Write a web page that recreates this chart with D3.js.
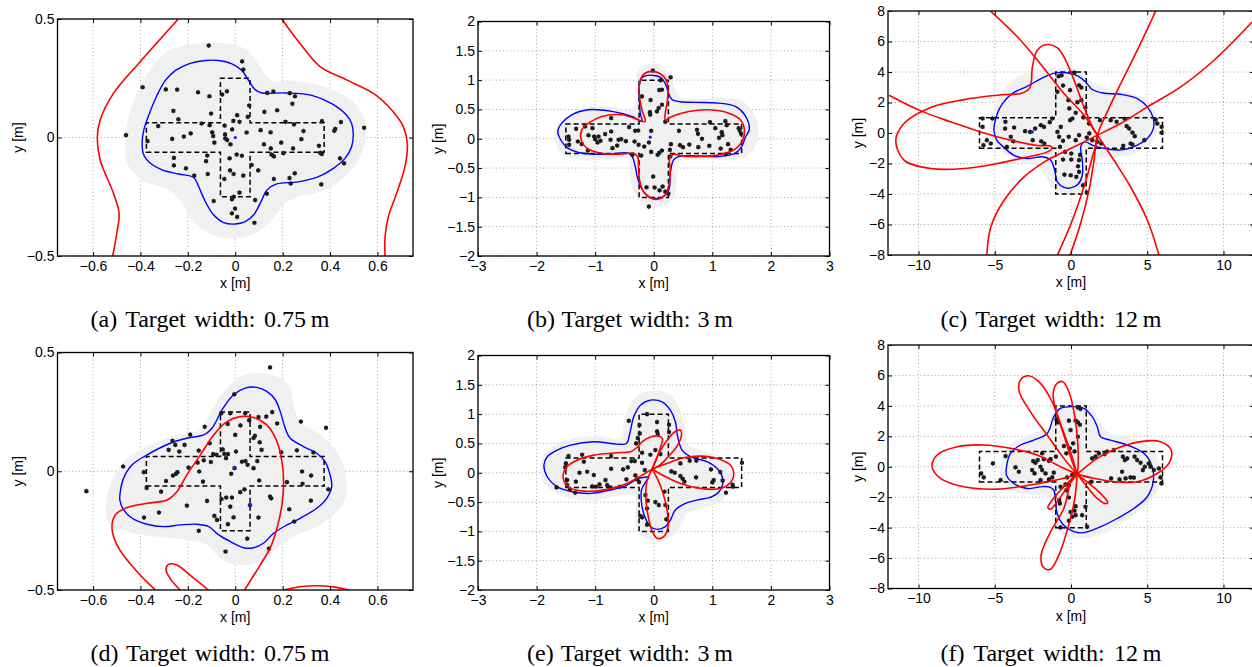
<!DOCTYPE html>
<html>
<head>
<meta charset="utf-8">
<script src="https://cdn.jsdelivr.net/npm/d3@7/dist/d3.min.js"></script>
<style>
  html, body { margin: 0; padding: 0; background: #fff; }
  svg { display: block; }
  .tick text { font-family: "Liberation Sans", Arial, sans-serif; font-size: 14px; fill: #000; }
  .lab { font-family: "Liberation Sans", Arial, sans-serif; font-size: 14px; fill: #000; }
  .cap { font-family: "Liberation Serif", "Times New Roman", serif; font-size: 24px; fill: #000; }
</style>
</head>
<body>
<svg id="fig" width="1252" height="667"></svg>
<script>
// ---------- tick values and labels ----------
const xTicksSmall = [-0.6, -0.4, -0.2, 0, 0.2, 0.4, 0.6];
const xLabelsSmall = ["−0.6", "−0.4", "−0.2", "0", "0.2", "0.4", "0.6"];
const yTicksSmall = [-0.5, 0, 0.5];
const yLabelsSmall = ["−0.5", "0", "0.5"];
const xTicksMid = [-3, -2, -1, 0, 1, 2, 3];
const xLabelsMid = ["−3", "−2", "−1", "0", "1", "2", "3"];
const yTicksMid = [-2, -1.5, -1, -0.5, 0, 0.5, 1, 1.5, 2];
const yLabelsMid = ["−2", "−1.5", "−1", "−0.5", "0", "0.5", "1", "1.5", "2"];
const xTicksLarge = [-10, -5, 0, 5, 10];
const xLabelsLarge = ["−10", "−5", "0", "5", "10"];
const yTicksLarge = [-8, -6, -4, -2, 0, 2, 4, 6, 8];
const yLabelsLarge = ["−8", "−6", "−4", "−2", "0", "2", "4", "6", "8"];

// ---------- captions ----------
const captions = ["(a) Target width: 0.75\u2009m", "(b) Target width: 3\u2009m", "(c) Target width: 12\u2009m",
                  "(d) Target width: 0.75\u2009m", "(e) Target width: 3\u2009m", "(f) Target width: 12\u2009m"];
const targetWidths = [0.75, 3, 12, 0.75, 3, 12];

// ---------- panel (a) ----------
const ptsA = [[-0.112,0.388],[0.029,0.321],[0.034,0.286],[-0.391,0.212],[-0.293,0.203],[-0.245,0.202],[-0.157,0.191],[-0.109,0.174],[-0.035,0.195],[-0.055,0.181],[0.135,0.188],[0.161,0.194],[0.230,0.187],[0.252,0.174],[0.241,0.142],[0.059,0.135],[-0.261,0.112],[-0.102,0.101],[0.008,0.094],[0.123,0.108],[0.177,0.115],[-0.240,0.077],[-0.008,0.070],[0.018,0.066],[0.053,0.087],[0.212,0.066],[0.248,0.055],[0.366,0.069],[0.446,0.065],[-0.325,0.048],[-0.142,0.059],[-0.108,0.052],[-0.045,0.050],[-0.013,0.034],[0.107,0.031],[0.149,0.022],[0.048,0.021],[0.288,0.027],[0.418,0.028],[0.422,0.036],[0.544,0.041],[-0.461,0.010],[-0.370,-0.015],[-0.266,-0.006],[-0.217,0.004],[-0.188,0.017],[-0.097,0.022],[-0.093,0.006],[-0.043,0.013],[-0.088,-0.022],[-0.042,-0.004],[-0.034,-0.011],[-0.020,-0.029],[0.121,-0.029],[0.150,-0.046],[0.194,-0.022],[0.279,-0.007],[0.353,-0.035],[0.359,-0.065],[0.365,-0.070],[-0.259,-0.086],[-0.118,-0.076],[-0.123,-0.100],[0.006,-0.072],[0.028,-0.077],[-0.024,-0.088],[0.153,-0.072],[0.163,-0.080],[0.203,-0.066],[0.244,-0.046],[-0.259,-0.118],[-0.208,-0.130],[-0.173,-0.161],[-0.116,-0.154],[-0.022,-0.139],[-0.007,-0.154],[0.034,-0.161],[0.069,-0.116],[0.097,-0.139],[-0.046,-0.175],[0.163,-0.175],[0.229,-0.171],[0.251,-0.151],[0.234,-0.194],[0.442,-0.088],[0.459,-0.109],[0.363,-0.198],[0.018,-0.233],[-0.006,-0.250],[-0.014,-0.261],[-0.091,-0.268],[0.084,-0.264],[0.133,-0.237],[-0.001,-0.300],[-0.014,-0.320],[0.008,-0.335],[0.081,-0.360]];
const blueA = [[-0.393,-0.025],[-0.386,0.031],[-0.365,0.094],[-0.330,0.178],[-0.295,0.241],[-0.252,0.283],[-0.196,0.311],[-0.126,0.325],[-0.070,0.325],[-0.014,0.311],[0.028,0.283],[0.056,0.241],[0.084,0.202],[0.112,0.188],[0.210,0.188],[0.323,0.178],[0.407,0.143],[0.470,0.094],[0.491,0.059],[0.498,0.017],[0.491,-0.039],[0.463,-0.088],[0.414,-0.130],[0.351,-0.165],[0.266,-0.187],[0.175,-0.196],[0.133,-0.222],[0.112,-0.264],[0.077,-0.327],[0.042,-0.355],[0.000,-0.365],[-0.049,-0.359],[-0.091,-0.327],[-0.126,-0.271],[-0.154,-0.208],[-0.175,-0.169],[-0.238,-0.154],[-0.309,-0.137],[-0.358,-0.109],[-0.386,-0.074]];
const grayA = [[-0.463,-0.011],[-0.456,0.059],[-0.421,0.171],[-0.351,0.297],[-0.281,0.367],[-0.168,0.396],[-0.042,0.398],[0.042,0.374],[0.098,0.311],[0.154,0.241],[0.238,0.241],[0.379,0.213],[0.491,0.157],[0.547,0.073],[0.550,-0.011],[0.519,-0.095],[0.463,-0.165],[0.379,-0.222],[0.266,-0.250],[0.210,-0.278],[0.154,-0.348],[0.084,-0.404],[-0.014,-0.425],[-0.112,-0.404],[-0.182,-0.348],[-0.224,-0.278],[-0.281,-0.222],[-0.393,-0.180],[-0.456,-0.109]];
const redA1 = [[-0.240,0.5],[-0.401,0.320],[-0.514,0.186],[-0.570,0.074],[-0.582,0.003],[-0.570,-0.095],[-0.514,-0.235],[-0.490,-0.320],[-0.500,-0.404],[-0.517,-0.5]];
const redA2 = [[0.196,0.5],[0.273,0.397],[0.358,0.299],[0.470,0.243],[0.583,0.186],[0.660,0.116],[0.709,0.046],[0.726,-0.024],[0.716,-0.123],[0.681,-0.235],[0.646,-0.334],[0.632,-0.419],[0.632,-0.5]];
const marksA = [[0.0, 0.0]];

// ---------- panel (b) ----------
const ptsB = [[-0.014,1.161],[0.288,1.047],[0.117,0.996],[0.140,0.836],[0.094,0.830],[-0.202,0.722],[-0.054,0.659],[0.140,0.580],[0.083,0.523],[0.054,0.466],[-0.066,0.454],[-0.060,0.409],[0.197,0.289],[-0.726,0.352],[0.430,0.135],[0.738,0.152],[0.755,0.084],[0.960,0.283],[1.222,0.300],[1.245,0.232],[1.051,0.181],[1.160,0.112],[1.171,0.061],[1.114,0.015],[1.450,0.181],[1.467,0.135],[1.490,0.084],[-0.316,0.135],[-0.265,0.141],[-0.043,0.135],[-0.083,-0.064],[0.293,-0.093],[0.276,-0.190],[0.447,-0.110],[0.499,-0.144],[0.607,-0.099],[0.761,-0.144],[0.823,-0.002],[0.949,-0.121],[1.142,-0.167],[1.268,-0.093],[1.228,-0.264],[1.313,-0.190],[-1.325,0.169],[-1.171,0.209],[-1.296,-0.047],[-1.456,0.038],[-1.444,-0.019],[-1.444,-0.104],[-1.046,0.181],[-1.017,0.038],[-1.000,-0.007],[-0.943,0.038],[-0.960,-0.064],[-0.909,-0.036],[-0.726,0.124],[-0.738,-0.019],[-0.704,-0.161],[-0.601,-0.019],[-0.556,-0.007],[-0.476,-0.042],[-0.624,-0.116],[-0.328,-0.047],[-0.259,-0.104],[-0.162,-0.133],[-0.362,-0.275],[-0.214,-0.287],[-0.043,-0.224],[0.140,-0.201],[0.094,-0.241],[0.066,-0.275],[0.282,-0.303],[-0.009,-0.645],[-0.123,-0.828],[0.014,-0.833],[0.151,-0.816],[0.197,-0.902],[-0.083,-1.158],[-1.125,-0.201],[-1.114,0.060],[-0.830,0.080],[-1.230,-0.090],[-0.420,0.200],[0.100,-0.880],[0.250,-0.940]];
const blueB = [[-1.638,0.124],[-1.570,0.266],[-1.399,0.409],[-1.114,0.494],[-0.715,0.466],[-0.373,0.380],[-0.202,0.295],[-0.231,0.437],[-0.242,0.608],[-0.248,0.893],[-0.202,1.040],[-0.110,1.080],[0.000,1.080],[0.111,1.050],[0.185,0.960],[0.265,0.750],[0.311,0.670],[0.453,0.630],[0.709,0.620],[1.108,0.608],[1.393,0.551],[1.553,0.409],[1.632,0.164],[1.564,0.027],[1.507,-0.121],[1.393,-0.247],[1.108,-0.304],[0.709,-0.292],[0.424,-0.304],[0.339,-0.360],[0.282,-0.588],[0.265,-0.845],[0.197,-0.959],[0.083,-1.016],[-0.060,-0.999],[-0.174,-0.902],[-0.259,-0.731],[-0.316,-0.474],[-0.362,-0.315],[-0.430,-0.247],[-0.715,-0.258],[-1.000,-0.264],[-1.285,-0.235],[-1.467,-0.161],[-1.570,-0.047]];
const grayB = [[-1.684,0.038],[-1.627,0.266],[-1.456,0.409],[-1.171,0.523],[-0.715,0.551],[-0.373,0.494],[-0.288,0.779],[-0.288,1.121],[-0.145,1.263],[0.083,1.263],[0.254,1.121],[0.368,0.836],[0.481,0.694],[0.766,0.676],[1.279,0.694],[1.564,0.608],[1.735,0.380],[1.792,0.124],[1.735,-0.133],[1.564,-0.304],[1.279,-0.360],[0.709,-0.360],[0.453,-0.389],[0.396,-0.645],[0.368,-0.930],[0.254,-1.101],[0.026,-1.158],[-0.202,-1.101],[-0.345,-0.930],[-0.402,-0.645],[-0.430,-0.360],[-0.829,-0.360],[-1.285,-0.360],[-1.541,-0.275],[-1.655,-0.133]];
const redB = [[-0.145,0.295],[-0.202,0.494],[-0.248,0.779],[-0.231,1.007],[-0.145,1.121],[-0.020,1.149],[0.111,1.109],[0.208,1.007],[0.242,0.836],[0.231,0.637],[0.197,0.437],[0.197,0.323],[0.311,0.380],[0.595,0.466],[0.937,0.494],[1.279,0.437],[1.479,0.323],[1.547,0.152],[1.507,-0.047],[1.365,-0.190],[1.108,-0.275],[0.766,-0.304],[0.481,-0.292],[0.339,-0.264],[0.271,-0.332],[0.282,-0.531],[0.254,-0.816],[0.197,-0.959],[0.071,-1.033],[-0.054,-1.010],[-0.157,-0.930],[-0.231,-0.759],[-0.259,-0.531],[-0.276,-0.304],[-0.345,-0.247],[-0.601,-0.264],[-0.886,-0.247],[-1.114,-0.178],[-1.239,-0.019],[-1.228,0.152],[-1.114,0.266],[-0.886,0.380],[-0.544,0.409],[-0.259,0.323]];
const marksB = [[-0.06, 0.027]];

// ---------- panel (c) ----------
const ptsC = [[-0.81,3.72],[-0.62,3.79],[0.22,3.96],[-0.52,3.11],[0.53,3.13],[0.68,2.98],[-0.06,2.81],[-0.17,2.15],[0.42,2.02],[0.68,2.15],[0.94,1.67],[-0.11,1.61],[0.31,1.32],[0.09,0.95],[0.81,1.02],[-0.06,0.84],[1.18,0.62],[-0.67,0.40],[-0.89,2.70],[-5.80,0.95],[-5.15,0.95],[-5.80,0.40],[-5.52,-0.47],[-5.26,-0.69],[-5.74,-0.80],[-4.30,0.73],[-4.32,0.29],[-3.73,0.36],[-3.01,0.12],[-2.68,0.07],[-2.35,0.29],[-1.98,0.51],[-1.77,0.40],[-1.22,0.95],[-1.39,0.71],[-2.51,-0.47],[-1.95,-0.54],[-1.75,-0.69],[-3.95,-0.25],[-3.78,-0.54],[-4.21,-0.91],[-0.78,-0.25],[-0.89,0.07],[-0.52,-0.51],[-0.15,-0.25],[0.31,-0.47],[0.53,-0.14],[1.90,0.84],[2.60,0.84],[2.99,0.73],[3.52,0.93],[3.65,0.45],[3.81,0.29],[4.03,0.03],[4.18,-0.21],[3.91,-0.69],[4.81,-0.47],[5.55,0.88],[5.66,0.62],[5.94,0.40],[5.94,0.01],[4.03,-0.76],[3.43,-0.84],[1.40,-0.47],[1.73,-0.58],[1.99,-0.69],[1.20,-0.03],[1.03,-0.30],[-0.72,-0.91],[-0.39,-1.24],[0.02,-1.35],[0.59,-1.44],[0.53,-1.78],[-0.52,-1.74],[0.02,-1.74],[0.46,-2.18],[-0.43,-2.73],[-0.02,-2.77],[0.53,-2.55],[0.35,-2.88],[0.79,-3.43],[1.03,-3.91]];
const blueC = [[-5.05,0.18],[-4.87,1.17],[-4.50,1.93],[-3.85,2.59],[-2.86,3.07],[-1.90,3.60],[-1.10,3.93],[-0.30,3.95],[0.50,3.72],[1.00,3.30],[1.40,2.85],[2.10,2.62],[3.26,2.54],[4.35,2.26],[5.01,1.71],[5.40,0.95],[5.40,0.29],[5.01,-0.36],[4.35,-0.80],[3.48,-1.09],[2.38,-1.05],[1.40,-0.80],[0.96,-0.58],[0.74,-0.69],[0.63,-0.95],[0.74,-1.78],[0.74,-2.77],[0.46,-3.36],[-0.02,-3.60],[-0.46,-3.57],[-0.90,-3.21],[-1.07,-2.44],[-1.33,-1.78],[-1.88,-1.56],[-2.86,-1.67],[-3.74,-1.46],[-4.39,-0.95],[-4.87,-0.47]];
const grayC = [[-5.31,0.07],[-5.26,1.05],[-4.60,2.59],[-3.50,3.68],[-2.20,4.12],[-0.89,4.23],[0.41,4.12],[1.50,3.24],[2.82,2.80],[4.35,2.48],[5.22,1.93],[5.66,0.84],[5.55,-0.25],[5.00,-0.91],[3.91,-1.46],[2.38,-1.57],[1.51,-1.78],[1.18,-3.10],[0.63,-3.87],[-0.24,-4.08],[-1.11,-3.75],[-1.66,-2.88],[-2.20,-2.22],[-3.51,-1.78],[-4.39,-1.35],[-5.05,-0.69]];
const redC1 = [[-5.27,7.99],[-3.52,6.31],[-2.21,4.78],[-0.46,2.59],[0.85,1.17],[1.73,-0.14],[2.82,-1.79],[3.91,-3.54],[5.01,-5.72],[5.77,-8.01]];
const redC2 = [[5.55,7.99],[4.35,5.43],[3.26,3.24],[2.38,1.39],[1.73,-0.14],[1.51,-1.79],[1.18,-3.75],[0.63,-5.94],[-0.06,-8.01]];
const redC3 = [[11.89,7.29],[9.38,4.77],[7.19,3.02],[5.01,1.71],[3.26,0.62],[1.73,-0.14],[-0.02,-1.02],[-1.55,-1.78],[-3.08,-2.88],[-4.39,-4.41],[-5.26,-6.16],[-5.52,-8.01]];
const redC4 = [[-11.93,2.48],[-9.96,1.50],[-7.89,0.73],[-5.92,0.07],[-3.95,-0.47],[-2.21,-0.82],[-1.44,-0.84],[-1.22,-0.97],[-1.55,-1.24],[-2.64,-1.52],[-4.83,-2.00],[-7.01,-2.33],[-9.20,-2.33],[-10.95,-1.78],[-11.49,-0.47],[-10.95,0.62],[-9.20,1.67],[-7.01,2.19],[-4.83,2.48],[-3.19,2.63],[-2.69,2.98],[-2.53,4.34],[-2.21,5.43],[-1.55,5.80],[-0.89,5.58],[-0.35,4.77],[0.20,3.46],[0.85,1.71],[1.51,0.18],[1.73,-0.14],[1.40,-1.57],[0.85,-3.53],[0.09,-5.72],[-0.89,-8.01]];
const marksC = [[-2.54, 0.07]];

// ---------- panel (d) ----------
const ptsD = [[0.147,0.437],[-0.004,0.324],[0.277,0.209],[0.383,0.183],[-0.059,0.244],[-0.021,0.244],[0.042,0.244],[0.098,0.228],[0.131,0.230],[0.156,0.249],[0.177,0.201],[-0.129,0.187],[-0.032,0.199],[0.022,0.193],[0.059,0.215],[0.105,0.187],[-0.190,0.154],[0.000,0.153],[0.083,0.149],[0.077,0.140],[0.103,0.122],[-0.265,0.128],[-0.253,0.111],[-0.214,0.111],[-0.108,0.118],[-0.281,0.090],[-0.236,0.083],[-0.154,0.087],[-0.053,0.092],[-0.093,0.072],[-0.079,0.069],[-0.046,0.073],[-0.031,0.072],[0.003,0.083],[-0.039,0.055],[0.028,0.040],[0.043,0.043],[0.052,0.027],[0.077,0.013],[0.093,0.043],[0.111,0.090],[0.194,0.080],[0.260,0.088],[0.330,0.079],[-0.133,0.046],[-0.103,0.039],[-0.159,0.036],[-0.197,0.015],[-0.244,-0.004],[-0.250,-0.011],[-0.263,-0.018],[-0.386,-0.004],[-0.152,-0.001],[-0.292,-0.041],[-0.136,-0.044],[-0.374,-0.070],[-0.313,-0.086],[-0.003,0.013],[-0.017,-0.011],[0.101,-0.039],[0.218,-0.046],[0.282,-0.001],[0.320,-0.018],[0.284,-0.053],[0.393,-0.076],[0.021,-0.088],[0.039,-0.076],[-0.014,-0.111],[-0.038,-0.111],[-0.058,-0.117],[-0.119,-0.125],[0.147,-0.107],[0.152,-0.114],[0.319,-0.124],[0.062,-0.143],[-0.204,-0.145],[-0.322,-0.174],[-0.385,-0.195],[-0.021,-0.149],[-0.007,-0.194],[-0.088,-0.188],[-0.077,-0.205],[0.098,-0.195],[0.228,-0.160],[0.249,-0.212],[-0.031,-0.223],[-0.154,-0.251],[0.051,-0.284],[-0.041,-0.338],[0.142,-0.326],[-0.628,-0.084],[-0.473,0.020]];
const blueD = [[-0.485,-0.086],[-0.471,-0.029],[-0.435,0.027],[-0.372,0.069],[-0.274,0.118],[-0.204,0.139],[-0.133,0.153],[-0.098,0.181],[-0.056,0.258],[-0.007,0.322],[0.042,0.350],[0.091,0.353],[0.133,0.336],[0.169,0.301],[0.190,0.251],[0.211,0.181],[0.232,0.139],[0.288,0.104],[0.344,0.076],[0.379,0.041],[0.400,-0.015],[0.407,-0.065],[0.386,-0.114],[0.344,-0.156],[0.274,-0.198],[0.218,-0.226],[0.162,-0.261],[0.119,-0.303],[0.077,-0.322],[0.035,-0.322],[-0.021,-0.296],[-0.070,-0.268],[-0.112,-0.233],[-0.162,-0.223],[-0.232,-0.226],[-0.302,-0.233],[-0.372,-0.223],[-0.435,-0.198],[-0.471,-0.163],[-0.487,-0.121]];
const grayD = [[-0.548,-0.170],[-0.527,-0.058],[-0.471,0.041],[-0.372,0.104],[-0.246,0.153],[-0.147,0.174],[-0.105,0.251],[-0.035,0.350],[0.021,0.399],[0.105,0.413],[0.190,0.392],[0.232,0.350],[0.246,0.279],[0.274,0.209],[0.358,0.153],[0.428,0.083],[0.463,-0.001],[0.463,-0.114],[0.414,-0.184],[0.330,-0.240],[0.246,-0.275],[0.176,-0.324],[0.105,-0.381],[0.021,-0.395],[-0.063,-0.367],[-0.119,-0.310],[-0.204,-0.289],[-0.344,-0.275],[-0.456,-0.254],[-0.527,-0.226]];
const redD1 = [[-0.337,-0.500],[-0.414,-0.423],[-0.492,-0.324],[-0.520,-0.240],[-0.506,-0.184],[-0.456,-0.153],[-0.372,-0.135],[-0.288,-0.121],[-0.246,-0.086],[-0.204,-0.015],[-0.147,0.069],[-0.091,0.153],[-0.035,0.209],[0.021,0.230],[0.077,0.226],[0.133,0.195],[0.176,0.125],[0.197,0.041],[0.204,-0.044],[0.197,-0.142],[0.176,-0.240],[0.147,-0.324],[0.105,-0.395],[0.070,-0.451],[0.039,-0.500]];
const redD2 = [[-0.113,-0.5],[-0.191,-0.437],[-0.247,-0.395],[-0.282,-0.392],[-0.292,-0.416],[-0.275,-0.451],[-0.233,-0.5]];
const redD3 = [[0.203,-0.5],[0.273,-0.486],[0.358,-0.482],[0.428,-0.489],[0.477,-0.5]];
const marksD = [[-0.003, 0.013], [0.062, -0.143]];

// ---------- panel (e) ----------
const ptsE = [[-0.114,1.000],[0.057,0.864],[-0.426,0.886],[-0.244,0.813],[-0.239,0.670],[-0.273,0.591],[0.057,0.705],[0.068,0.659],[0.261,0.818],[0.261,0.693],[-0.301,0.500],[-0.199,0.341],[-0.057,0.307],[0.028,0.386],[0.114,0.318],[-1.455,0.284],[-1.222,0.307],[-1.500,0.159],[-1.511,0.091],[-1.477,-0.125],[-1.330,-0.153],[-1.477,-0.210],[-1.659,-0.250],[-1.432,-0.284],[-1.341,-0.341],[-1.267,0.000],[-1.136,0.017],[-1.193,0.188],[-1.023,-0.040],[-0.926,-0.199],[-0.727,0.284],[-0.795,-0.210],[-0.739,-0.250],[-0.824,-0.125],[-0.727,0.068],[-0.523,0.057],[-0.443,0.091],[-0.381,0.199],[-0.324,0.199],[-0.199,0.170],[-0.466,-0.114],[-0.313,-0.045],[-0.284,-0.114],[-0.250,-0.159],[-0.580,-0.239],[-0.989,-0.239],[-1.051,-0.233],[-0.153,0.045],[0.455,0.159],[0.614,0.205],[0.727,0.205],[0.301,0.023],[0.358,0.000],[0.455,-0.057],[0.494,-0.102],[0.523,-0.153],[0.722,-0.080],[0.977,0.057],[1.023,-0.125],[1.000,-0.165],[1.136,0.011],[1.176,-0.136],[1.347,-0.205],[1.352,-0.239],[1.233,-0.341],[1.506,0.170],[-0.142,-0.381],[-0.102,-0.477],[0.028,-0.500],[0.085,-0.551],[0.199,-0.551],[-0.114,-0.608],[-0.227,-0.739],[-0.199,-0.761],[0.216,-0.795],[-0.114,-0.886],[0.182,-0.324]];
const blueE = [[-1.875,0.131],[-1.818,0.273],[-1.648,0.386],[-1.420,0.472],[-1.023,0.528],[-0.625,0.489],[-0.466,0.500],[-0.409,0.670],[-0.341,0.955],[-0.227,1.153],[-0.057,1.239],[0.142,1.210],[0.284,1.068],[0.369,0.869],[0.409,0.614],[0.483,0.386],[0.625,0.273],[0.909,0.188],[1.108,0.045],[1.182,-0.125],[1.136,-0.295],[0.994,-0.409],[0.739,-0.466],[0.540,-0.523],[0.369,-0.636],[0.284,-0.807],[0.199,-0.920],[0.057,-0.966],[-0.057,-0.920],[-0.142,-0.778],[-0.199,-0.580],[-0.210,-0.295],[-0.125,-0.136],[-0.085,-0.080],[-0.256,-0.097],[-0.455,-0.210],[-0.739,-0.295],[-1.080,-0.352],[-1.392,-0.324],[-1.648,-0.239],[-1.818,-0.068]];
const grayE = [[-1.932,0.102],[-1.847,0.330],[-1.648,0.500],[-1.364,0.585],[-0.966,0.625],[-0.568,0.585],[-0.511,0.841],[-0.398,1.182],[-0.227,1.352],[0.028,1.398],[0.284,1.324],[0.455,1.068],[0.540,0.727],[0.597,0.472],[0.795,0.386],[1.136,0.273],[1.307,0.045],[1.307,-0.239],[1.165,-0.466],[0.852,-0.608],[0.568,-0.693],[0.455,-0.920],[0.284,-1.091],[0.028,-1.148],[-0.227,-1.062],[-0.313,-0.864],[-0.324,-0.409],[-0.568,-0.381],[-0.966,-0.466],[-1.420,-0.438],[-1.705,-0.324],[-1.903,-0.125]];
const hubE = [-0.028, 0.063];
const redE1 = [[-0.227,-0.057],[-0.455,-0.182],[-0.795,-0.284],[-1.193,-0.313],[-1.449,-0.250],[-1.545,-0.097],[-1.506,0.074],[-1.364,0.188],[-1.023,0.301],[-0.625,0.341],[-0.398,0.358],[-0.284,0.432],[-0.199,0.528],[-0.057,0.608],[0.085,0.625],[0.148,0.580],[0.114,0.432],[0.040,0.216]];
const redE2 = [[0.057,0.273],[0.170,0.472],[0.284,0.625],[0.386,0.716],[0.455,0.727],[0.472,0.631],[0.398,0.455],[0.256,0.284],[0.097,0.125]];
const redE3 = [[0.227,0.159],[0.511,0.256],[0.795,0.284],[1.080,0.244],[1.307,0.131],[1.364,-0.040],[1.278,-0.199],[1.080,-0.278],[0.795,-0.267],[0.455,-0.182],[0.170,-0.051]];
const redE4 = [[-0.114,-0.136],[-0.136,-0.409],[-0.102,-0.705],[-0.034,-0.977],[0.057,-1.119],[0.170,-1.091],[0.244,-0.920],[0.227,-0.636],[0.159,-0.352],[0.068,-0.114]];

// ---------- panel (f) ----------
const ptsF = [[-0.95,3.11],[-0.84,2.92],[-0.14,3.03],[0.30,3.03],[0.45,2.92],[0.58,2.76],[0.45,3.90],[0.62,3.80],[-0.03,2.41],[0.45,1.97],[0.14,1.54],[-0.08,1.21],[0.23,1.01],[-0.30,0.88],[-0.47,1.36],[-0.99,0.66],[-5.12,0.22],[-5.89,-0.44],[-5.72,-0.70],[-4.62,-0.88],[-4.29,0.70],[-3.64,-0.04],[-3.42,-0.33],[-2.48,0.37],[-2.33,0.26],[-2.18,0.44],[-1.89,0.88],[-1.78,0.50],[-1.45,0.39],[-1.34,0.50],[-2.00,0.00],[-1.89,-0.22],[-1.67,-0.44],[-2.00,-0.88],[-1.45,-0.83],[-1.23,-0.70],[-2.55,-0.22],[-2.39,-0.44],[-1.13,-0.39],[1.39,0.55],[1.61,0.66],[1.83,0.88],[2.20,0.83],[2.37,0.99],[2.81,1.10],[3.40,0.66],[3.53,0.44],[3.69,0.55],[4.17,0.66],[4.34,0.44],[4.56,0.26],[4.71,-0.22],[4.84,0.00],[5.10,0.22],[5.21,0.00],[5.43,-0.22],[5.76,-0.11],[5.87,-0.70],[5.93,-1.10],[3.35,-0.33],[2.63,-0.77],[3.18,-0.83],[3.58,-0.77],[3.90,-0.70],[4.12,-0.72],[1.34,-0.99],[0.08,-0.55],[-0.25,-0.70],[-0.36,-1.16],[-0.14,-1.21],[-0.69,-1.32],[-0.30,-1.54],[-0.73,-2.41],[-0.77,-2.19],[0.30,-2.59],[0.23,-2.89],[-0.03,-2.98],[0.08,-3.29],[-0.14,-3.55],[0.30,-3.18],[0.73,-3.18],[0.95,-2.63],[1.06,-3.95],[-0.69,-3.99],[-0.14,-2.02],[0.40,-0.44],[0.30,-0.40]];
const blueF = [[-4.19,0.22],[-3.97,0.88],[-3.31,1.43],[-2.44,1.75],[-1.56,2.19],[-1.13,3.29],[-0.69,3.84],[0.19,3.95],[0.84,3.84],[1.39,3.29],[1.72,2.63],[1.94,1.97],[2.59,1.75],[3.68,1.43],[4.78,0.88],[5.32,0.00],[5.39,-0.99],[5.00,-1.97],[4.12,-2.74],[3.03,-3.40],[1.93,-3.95],[1.06,-4.28],[0.51,-4.34],[-0.03,-4.17],[-0.58,-3.73],[-0.91,-3.07],[-1.02,-2.19],[-1.13,-1.54],[-1.45,-1.32],[-2.00,-1.32],[-2.87,-1.43],[-3.75,-1.10],[-4.23,-0.55]];
const grayF = [[-4.62,0.11],[-4.40,0.88],[-3.53,1.75],[-2.22,2.30],[-1.45,2.63],[-1.13,3.73],[-0.47,4.17],[0.62,4.28],[1.39,3.84],[1.94,2.85],[2.37,2.30],[3.68,1.97],[4.99,1.43],[5.76,0.44],[5.87,-0.88],[5.43,-1.97],[4.56,-2.85],[3.46,-3.62],[2.37,-4.28],[1.28,-4.61],[0.19,-4.71],[-0.69,-4.39],[-1.13,-3.73],[-1.34,-2.63],[-1.56,-1.97],[-2.22,-1.86],[-3.31,-1.75],[-4.19,-1.32],[-4.58,-0.66]];
const hubF = [0.40, -0.50];
const redF1 = [[-0.47,-0.76],[-2.66,-1.20],[-4.84,-1.47],[-7.03,-1.31],[-8.56,-0.76],[-9.11,0.00],[-8.78,0.77],[-7.46,1.31],[-5.72,1.43],[-3.97,1.21],[-2.22,0.77],[-0.69,0.00]];
const redF2 = [[-0.47,0.55],[-1.56,2.08],[-2.66,3.61],[-3.42,5.04],[-3.27,5.76],[-2.77,5.98],[-2.00,5.48],[-1.24,4.27],[-0.58,2.52],[-0.03,0.99]];
const redF3 = [[0.08,0.33],[-0.47,2.08],[-1.02,3.83],[-1.17,4.82],[-0.91,5.48],[-0.54,5.59],[-0.14,4.93],[0.23,3.40],[0.45,1.42],[0.47,0.11]];
const redF4 = [[1.72,0.55],[3.03,1.21],[4.56,1.65],[5.87,1.65],[6.57,1.10],[6.42,0.22],[5.65,-0.44],[4.34,-0.98],[2.81,-0.98],[1.50,-0.76]];
const redF5 = [[1.17,-1.09],[1.93,-1.75],[2.41,-2.34],[2.26,-2.42],[1.72,-2.08],[1.06,-1.31]];
const redF6 = [[-0.03,-0.88],[-0.69,-1.54],[-1.23,-2.19],[-1.52,-2.68],[-1.34,-2.79],[-0.84,-2.19],[-0.14,-1.21]];
const redF7 = [[0.08,-0.73],[-0.47,-2.74],[-1.34,-4.27],[-1.96,-5.81],[-1.78,-6.64],[-1.34,-6.73],[-0.80,-5.81],[-0.21,-4.05],[0.25,-2.08]];

// ---------- panel layout ----------
const panels = [
  { box: [57.5, 413, 19, 256], xd: [-0.75, 0.75], yd: [-0.5, 0.5],
    xt: xTicksSmall, xl: xLabelsSmall, yt: yTicksSmall, yl: yLabelsSmall, ylabOff: 40,
    pts: ptsA, blue: blueA, gray: grayA, red: [redA1, redA2], petals: [], hub: null, marks: marksA, capY: 327 },
  { box: [478, 829.5, 21.5, 256], xd: [-3, 3], yd: [-2, 2],
    xt: xTicksMid, xl: xLabelsMid, yt: yTicksMid, yl: yLabelsMid, ylabOff: 40,
    pts: ptsB, blue: blueB, gray: grayB, red: [], redClosed: [redB], petals: [], hub: null, marks: marksB, capY: 327 },
  { box: [888, 1254, 11, 255], xd: [-12, 12], yd: [-8, 8],
    xt: xTicksLarge, xl: xLabelsLarge, yt: yTicksLarge, yl: yLabelsLarge, ylabOff: 30,
    pts: ptsC, blue: blueC, gray: grayC, red: [redC1, redC2, redC3, redC4], petals: [], hub: null, marks: marksC, capY: 327 },
  { box: [57.5, 413, 352.5, 590], xd: [-0.75, 0.75], yd: [-0.5, 0.5],
    xt: xTicksSmall, xl: xLabelsSmall, yt: yTicksSmall, yl: yLabelsSmall, ylabOff: 40,
    pts: ptsD, blue: blueD, gray: grayD, red: [redD1, redD2, redD3], petals: [], hub: null, marks: marksD, capY: 661 },
  { box: [478, 829.5, 355.5, 590], xd: [-3, 3], yd: [-2, 2],
    xt: xTicksMid, xl: xLabelsMid, yt: yTicksMid, yl: yLabelsMid, ylabOff: 40,
    pts: ptsE, blue: blueE, gray: grayE, red: [], petals: [redE1, redE2, redE3, redE4], hub: hubE, marks: [], capY: 661 },
  { box: [888, 1254, 345, 588.5], xd: [-12, 12], yd: [-8, 8],
    xt: xTicksLarge, xl: xLabelsLarge, yt: yTicksLarge, yl: yLabelsLarge, ylabOff: 30,
    pts: ptsF, blue: blueF, gray: grayF, red: [], petals: [redF1, redF2, redF3, redF4, redF5, redF6, redF7], hub: hubF, marks: [], capY: 661 }
];
// caption centres and text widths per column
const capCentres = [210, 630, 1051];
const capWidths = [239, 206, 221];

const svg = d3.select("#fig");

panels.forEach((p, i) => {
  const [L, R, T, B] = p.box;
  const x = d3.scaleLinear().domain(p.xd).range([L, R]);
  const y = d3.scaleLinear().domain(p.yd).range([B, T]);
  const g = svg.append("g");
  const clipId = "clip" + i;
  g.append("clipPath").attr("id", clipId)
    .append("rect").attr("x", L).attr("y", T).attr("width", R - L).attr("height", B - T);

  // dotted grid
  const grid = g.append("g").attr("stroke", "#8c8c8c").attr("stroke-width", 0.8)
    .attr("stroke-dasharray", "1,2.6");
  grid.selectAll(".gx").data(p.xt).join("line")
    .attr("x1", d => x(d)).attr("x2", d => x(d)).attr("y1", T).attr("y2", B);
  grid.selectAll(".gy").data(p.yt).join("line")
    .attr("y1", d => y(d)).attr("y2", d => y(d)).attr("x1", L).attr("x2", R);

  const body = g.append("g").attr("clip-path", `url(#${clipId})`);
  const closed = d3.line().x(d => x(d[0])).y(d => y(d[1])).curve(d3.curveCatmullRomClosed.alpha(0.5));
  const open = d3.line().x(d => x(d[0])).y(d => y(d[1])).curve(d3.curveCatmullRom.alpha(0.5));

  // shaded region
  body.append("path").attr("d", closed(p.gray)).attr("fill", "#f0f0f0").attr("stroke", "none");

  // dashed target outline (cross)
  const w = targetWidths[i];
  const a = w / 2, v = w / 3, t = w / 12;
  const cross = [[-a,-t],[-t,-t],[-t,-v],[t,-v],[t,-t],[a,-t],[a,t],[t,t],[t,v],[-t,v],[-t,t],[-a,t]];
  body.append("path")
    .attr("d", d3.line().x(d => x(d[0])).y(d => y(d[1]))(cross) + "Z")
    .attr("fill", "none").attr("stroke", "#000").attr("stroke-width", 1.5).attr("stroke-dasharray", "5,3");

  // blue contour
  body.append("path").attr("d", closed(p.blue)).attr("fill", "none")
    .attr("stroke", "#0000ff").attr("stroke-width", 1.4);

  // samples
  body.selectAll(".pt").data(p.pts).join("circle")
    .attr("cx", d => x(d[0])).attr("cy", d => y(d[1])).attr("r", 2.1).attr("fill", "#111");
  body.selectAll(".pt2").data(p.pts).join("path")
    .attr("transform", d => `translate(${x(d[0])},${y(d[1])})`)
    .attr("d", d3.symbol(d3.symbolAsterisk, 16)())
    .attr("stroke", "#222").attr("stroke-width", 0.7).attr("fill", "none");
  body.selectAll(".mk").data(p.marks).join("circle")
    .attr("cx", d => x(d[0])).attr("cy", d => y(d[1])).attr("r", 1.6).attr("fill", "#1a1aff");

  // red curves
  const redStyle = sel => sel.attr("fill", "none").attr("stroke", "#ff0000").attr("stroke-width", 1.6);
  p.red.forEach(c => body.append("path").attr("d", open(c)).call(redStyle));
  (p.redClosed || []).forEach(c => body.append("path").attr("d", closed(c)).call(redStyle));
  p.petals.forEach(c => body.append("path").attr("d", open([p.hub, ...c, p.hub])).call(redStyle));

  // axes with inward ticks
  const fx = d => p.xl[p.xt.indexOf(d)];
  const fy = d => p.yl[p.yt.indexOf(d)];
  const ax = [
    g.append("g").attr("transform", `translate(0,${B})`)
      .call(d3.axisBottom(x).tickValues(p.xt).tickFormat(fx).tickSizeInner(-4).tickSizeOuter(0).tickPadding(5)),
    g.append("g").attr("transform", `translate(0,${T})`)
      .call(d3.axisTop(x).tickValues(p.xt).tickFormat("").tickSizeInner(-4).tickSizeOuter(0)),
    g.append("g").attr("transform", `translate(${L},0)`)
      .call(d3.axisLeft(y).tickValues(p.yt).tickFormat(fy).tickSizeInner(-4).tickSizeOuter(0).tickPadding(3)),
    g.append("g").attr("transform", `translate(${R},0)`)
      .call(d3.axisRight(y).tickValues(p.yt).tickFormat("").tickSizeInner(-4).tickSizeOuter(0))
  ];
  ax.forEach(s => { s.select(".domain").remove(); s.attr("font-family", null).attr("font-size", null); });

  g.append("rect").attr("x", L).attr("y", T).attr("width", R - L).attr("height", B - T)
    .attr("fill", "none").attr("stroke", "#000").attr("stroke-width", 1.3);

  // axis titles
  g.append("text").attr("class", "lab").attr("x", x(0)).attr("y", B + 32)
    .attr("text-anchor", "middle").text("x [m]");
  g.append("text").attr("class", "lab")
    .attr("transform", `translate(${L - p.ylabOff + 5},${(T + B) / 2}) rotate(-90)`)
    .attr("text-anchor", "middle").text("y [m]");

  // caption: widen only the gaps between words to reach the column's text width
  const col = i % 3;
  const cap = g.append("text").attr("class", "cap").attr("x", capCentres[col]).attr("y", p.capY)
    .attr("text-anchor", "middle").text(captions[i]);
  const natural = cap.node().getComputedTextLength();
  const gaps = (captions[i].match(/ /g) || []).length;
  if (gaps > 0 && natural < capWidths[col]) {
    cap.style("word-spacing", ((capWidths[col] - natural) / gaps) + "px");
  }
});
</script>
</body>
</html>
